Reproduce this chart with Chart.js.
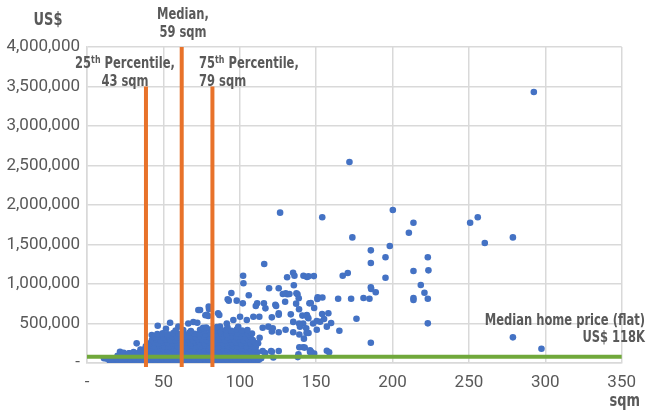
<!DOCTYPE html>
<html>
<head>
<meta charset="utf-8">
<script src="https://cdn.jsdelivr.net/npm/chart.js@4.4.1/dist/chart.umd.min.js"></script>
<style>
  html, body { margin: 0; padding: 0; background: #fff; }
</style>
</head>
<body>
<canvas id="chart" width="646" height="414"></canvas>
<script>
// home size (sqm) vs price (US$)
const homes = [
  // outliers and sparse points
  [292.5,3430000],[171.8,2544000],[200.2,1937000],[126.4,1903000],[154,1844000],[250.8,1776000],
  [255.8,1844000],[213.7,1776000],[210.7,1649000],[173.7,1590000],[260.4,1519000],[278.8,1590000],
  [185.8,1426000],[198.2,1481000],[195.4,1338000],[185.8,1266000],[223.1,1338000],[116,1253000],
  [223.5,1173000],[213.7,1165000],[195.4,1080000],[167.4,1105000],[170.7,1139000],[141.7,1105000],
  [144,1088000],[145,1097000],[102.2,1105000],[134.9,1143000],[131,1085000],[135.8,1105000],
  [148.5,1100000],[102.4,1010000],[135.4,984000],[185.8,958000],[186,937000],[189,895000],
  [218.5,987000],[220.9,890000],[223.1,814000],[213.7,823000],[213.7,797000],[181,823000],
  [184.9,814000],[172.9,814000],[164.4,814000],[150.8,810000],[154.1,830000],[146.5,760000],
  [148.7,696000],[158,629000],[176.4,561000],[223.1,502000],[159.8,506000],[152.6,523000],
  [155.2,557000],[144.3,586000],[144.9,566000],[141,600000],[141.5,500000],[143.5,440000],
  [145,380000],[165.2,409000],[142,308000],[278.8,325000],[297.5,181000],[185.8,257000],
  [141.5,200000],[142.5,195000],[157,156000],[158.5,135000],[146,140000],[148.7,120000],
  [94.5,886000],[105.9,857000],[119.2,946000],[125.5,946000],[131.2,870000],[137.8,870000],
  [92.8,789000],[98,789000],[102,755000],[111.4,755000],[115.8,755000],[123.3,738000],
  [129.7,776000],[79.9,683000],[85.8,629000],[74,670000],[121,578000],[125.5,629000],
  [133.4,616000],[138.8,680000],[145.6,755000],[120.5,152000],[125.5,152000],[115,447000],
  [121.6,440000],[125.5,390000],[130,420000],[135,390000],[138.8,500000],[139,360000],
  [139,200000],[146,160000],[110.5,722000],[116.8,692000],[123.8,722000],[125.5,611000],
  [128.2,873000],[130.1,882000],[132.5,873000],[137.1,882000],[138.6,819000],[136.9,751000],
  [151,832000],[143.9,608000],[150.4,532000],[153.9,620000],[72.9,671000],[79.4,595000],
  [86.6,608000],[92.1,806000],[79.7,713000],[66.3,500000],[69.6,519000],[77.5,604000],
  [46.3,472000],[51.7,434000],[54.4,510000],[59.8,460000],[42.4,354000],[72.2,510000],
  [78.4,610000],[32.5,249000],[21.6,143000],[27.7,122000],[11.1,60000],[87.1,460000],
  [91.5,500000],[95.8,544000],[100.2,586000],[104.6,544000],[108.9,586000],[112.8,586000],
  [118.7,460000],[121,400000],[135,520000],[139.4,460000],[143.7,380000],[148,500000],
  [150.4,420000],[157,460000],[116.6,127000],[121,143000],[138.4,110000],[146.7,143000],
  [122,70000],[138,75000],[114,60000],[115,150000],[112,250000],[113,320000],
  // dense cluster
  [15,20000],[18,8000],[21,22000],[24,12000],[27,5000],[30,18000],[33,10000],[36,24000],[39,6000],
  [42,15000],[45,9000],[48,21000],[51,4000],[54,16000],[57,11000],[60,25000],[63,7000],[66,19000],
  [69,13000],[72,3000],[75,17000],[78,10000],[81,22000],[84,6000],[87,14000],[90,20000],[93,8000],
  [96,18000],[99,12000],[102,24000],[105,9000],[108,16000],[111,21000],
  [13,55000],[16,45000],[19.5,58000],[22.5,48000],[25.5,60000],[28.5,46000],[31.5,57000],[34.5,50000],
  [37.5,44000],[40.5,59000],[43.5,52000],[46.5,47000],[49.5,56000],[52.5,43000],[55.5,61000],
  [58.5,49000],[61.5,54000],[64.5,45000],[67.5,58000],[70.5,51000],[73.5,46000],[76.5,60000],
  [79.5,48000],[82.5,55000],[85.5,44000],[88.5,57000],[91.5,50000],[94.5,62000],[97.5,47000],
  [100.5,53000],[103.5,45000],[106.5,59000],[109.5,50000],[112.5,42000],
  [20,90000],[23,100000],[26,84000],[29,96000],[32,88000],[35,102000],[38,92000],[41,85000],
  [44,99000],[47,89000],[50,104000],[53,93000],[56,86000],[59,98000],[62,90000],[65,105000],
  [68,87000],[71,97000],[74,92000],[77,101000],[80,86000],[83,95000],[86,103000],[89,88000],
  [92,98000],[95,91000],[98,104000],[101,87000],[104,96000],[107,90000],[110,100000],
  [24,130000],[27.5,122000],[30.5,138000],[33.5,127000],[36.5,135000],[39.5,124000],[42.5,140000],
  [45.5,129000],[48.5,136000],[51.5,121000],[54.5,133000],[57.5,142000],[60.5,126000],[63.5,137000],
  [66.5,128000],[69.5,141000],[72.5,123000],[75.5,134000],[78.5,139000],[81.5,125000],[84.5,132000],
  [87.5,143000],[90.5,127000],[93.5,136000],[96.5,122000],[99.5,138000],[102.5,130000],[105.5,141000],
  [108.5,126000],[111.5,135000],
  [35,170000],[38,178000],[41,165000],[44,182000],[47,170000],[50,176000],[53,163000],[56,180000],
  [59,172000],[62,167000],[65,184000],[68,171000],[71,177000],[74,164000],[77,181000],[80,169000],
  [83,175000],[86,166000],[89,183000],[92,172000],[95,178000],[98,165000],[101,180000],[104,170000],
  [107,176000],[110,168000],
  [38.5,210000],[41.5,218000],[44.5,205000],[47.5,222000],[50.5,212000],[53.5,207000],[56.5,220000],
  [59.5,211000],[62.5,216000],[65.5,204000],[68.5,223000],[71.5,213000],[74.5,208000],[77.5,219000],
  [80.5,210000],[83.5,215000],[86.5,206000],[89.5,221000],[92.5,212000],[95.5,217000],[98.5,205000],
  [101.5,220000],[104.5,209000],[107.5,214000],[110.5,207000],
  [41,250000],[44,258000],[47,246000],[50,262000],[53,252000],[56,247000],[59,260000],[62,251000],
  [65,256000],[68,244000],[71,263000],[74,253000],[77,248000],[80,259000],[83,250000],[86,255000],
  [89,246000],[92,261000],[95,252000],[98,257000],[101,245000],[104,260000],[107,249000],[110,254000],
  [42.5,290000],[45.5,298000],[48.5,286000],[51.5,300000],[54.5,291000],[57.5,287000],[60.5,299000],
  [63.5,292000],[66.5,296000],[69.5,285000],[72.5,302000],[75.5,293000],[78.5,288000],[81.5,297000],
  [84.5,290000],[87.5,295000],[90.5,286000],[93.5,301000],[96.5,292000],[99.5,297000],[102.5,287000],
  [105.5,300000],[108.5,291000],
  [44,330000],[47,338000],[50,326000],[53,341000],[56,331000],[59,327000],[62,339000],[65,332000],
  [68,336000],[71,325000],[74,342000],[77,333000],[80,328000],[83,337000],[86,330000],[89,335000],
  [92,326000],[95,340000],[98,331000],[101,336000],[104,327000],[107,334000],
  [46,368000],[49.5,375000],[53,362000],[56.5,380000],[60,370000],[63.5,365000],[67,382000],
  [70.5,371000],[74,377000],[77.5,363000],[81,380000],[84.5,369000],[88,375000],[91.5,364000],
  [95,383000],[98.5,372000],[102,378000],[105.5,366000],[108,374000],
  [58,410000],[63,418000],[68,405000],[74,420000],[77,408000],[80.5,423000],[84,412000],
  [87.5,404000],[91,419000],[94.5,409000],[98,425000],[101.5,411000],[105,417000],
  [76,445000],[78,450000],[85,455000],[92,448000],[99,458000]
];

// reference lines
const medianPriceLine = [[0, 80000], [350, 80000]];
const pct25Line = [[38.6, -50000], [38.6, 3500000]];
const medianLine = [[62, -50000], [62, 4000000]];
const pct75Line = [[82.1, -50000], [82.1, 3500000]];

const toXY = arr => arr.map(p => ({ x: p[0], y: p[1] }));

const GREY = '#595959';
const FACE = "'DejaVu Sans Condensed', 'DejaVu Sans', sans-serif";
const NARROW = 0.8; // squeeze to look like a condensed face

// draws text pieces in a row, some as superscript
function drawParts(ctx, parts, x, y, align, size) {
  size = size || 16;
  const big = 'bold ' + size + 'px ' + FACE;
  const sup = 'bold 11px ' + FACE;
  let total = 0;
  parts.forEach(p => { ctx.font = p.sup ? sup : big; total += ctx.measureText(p.t).width; });
  total *= NARROW;
  const start = align === 'center' ? x - total / 2 : align === 'right' ? x - total : x;
  ctx.save();
  ctx.translate(start, y);
  ctx.scale(NARROW, 1);
  ctx.textAlign = 'left';
  ctx.textBaseline = 'middle';
  let cx = 0;
  parts.forEach(p => {
    ctx.font = p.sup ? sup : big;
    ctx.fillText(p.t, cx, p.sup ? -4 : 0);
    cx += ctx.measureText(p.t).width;
  });
  ctx.restore();
}

const labels = {
  id: 'labels',
  afterDatasetsDraw(chart) {
    const ctx = chart.ctx;
    ctx.save();
    ctx.fillStyle = GREY;
    drawParts(ctx, [{ t: 'US$' }], 48, 20, 'center', 18);
    drawParts(ctx, [{ t: 'Median,' }], 183, 15, 'center');
    drawParts(ctx, [{ t: '59 sqm' }], 183, 33, 'center');
    drawParts(ctx, [{ t: '25' }, { t: 'th', sup: true }, { t: ' Percentile,' }], 125, 64, 'center');
    drawParts(ctx, [{ t: '43 sqm' }], 125, 82, 'center');
    drawParts(ctx, [{ t: '75' }, { t: 'th', sup: true }, { t: ' Percentile,' }], 199, 64, 'left');
    drawParts(ctx, [{ t: '79 sqm' }], 199, 82, 'left');
    drawParts(ctx, [{ t: 'Median home price (flat)' }], 645, 321, 'right');
    drawParts(ctx, [{ t: 'US$ 118K' }], 645, 338, 'right');
    drawParts(ctx, [{ t: 'sqm' }], 640, 401, 'right', 18);
    ctx.restore();
  }
};

const lineDs = (data, color, order) => ({
  type: 'line',
  data: toXY(data),
  borderColor: color,
  borderWidth: 4,
  pointRadius: 0,
  clip: false,
  order: order
});

new Chart(document.getElementById('chart'), {
  type: 'scatter',
  data: {
    datasets: [
      {
        data: toXY(homes),
        backgroundColor: '#4472C4',
        borderColor: '#4472C4',
        borderWidth: 0,
        pointRadius: 3.3,
        order: 3
      },
      lineDs(medianPriceLine, '#70A83B', 2),
      lineDs(pct25Line, '#E8722A', 1),
      lineDs(medianLine, '#E8722A', 1),
      lineDs(pct75Line, '#E8722A', 1)
    ]
  },
  options: {
    responsive: false,
    animation: false,
    events: [],
    layout: { padding: { top: 47, right: 24, left: 0, bottom: 0 } },
    plugins: { legend: { display: false }, tooltip: { enabled: false } },
    scales: {
      x: {
        type: 'linear',
        min: 0,
        max: 350,
        ticks: {
          stepSize: 50,
          padding: 10,
          color: GREY,
          maxRotation: 0,
          font: { family: 'Roboto', size: 17 },
          callback: v => v === 0 ? '-' : v
        },
        grid: { color: '#d9d9d9', lineWidth: 1.5, drawTicks: false },
        border: { color: '#d9d9d9', width: 1.5 },
        afterFit: s => { s.height = 51; }
      },
      y: {
        min: 0,
        max: 4000000,
        ticks: {
          stepSize: 500000,
          padding: 7,
          color: GREY,
          font: { family: 'Roboto', size: 17 },
          callback: v => v === 0 ? '-' : v.toLocaleString('en-US')
        },
        grid: { color: '#d9d9d9', lineWidth: 1.5, drawTicks: false },
        border: { color: '#d9d9d9', width: 1.5 },
        afterFit: s => { s.width = 87; }
      }
    }
  },
  plugins: [labels]
});
</script>
</body>
</html>
